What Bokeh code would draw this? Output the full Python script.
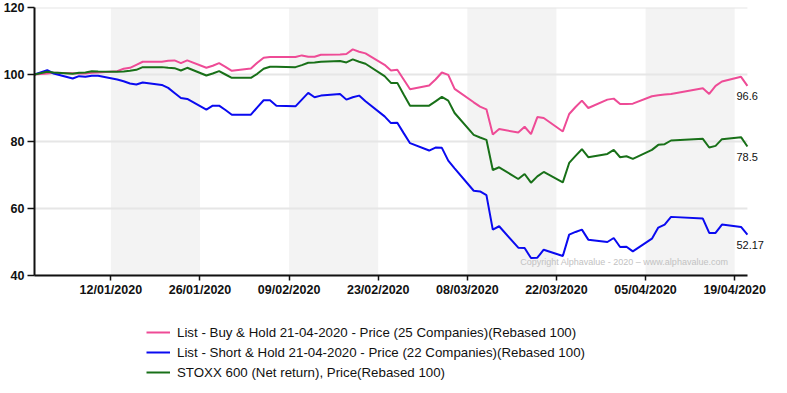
from datetime import datetime, timedelta
from bokeh.plotting import figure
from bokeh.layouts import column
from bokeh.models import (Range1d, FixedTicker, DatetimeTickFormatter, BoxAnnotation,
                          Legend, LegendItem, Label)
from bokeh.embed import file_html
from bokeh.resources import INLINE

dates = [
    "2019-12-31", "2020-01-02", "2020-01-03",
    "2020-01-06", "2020-01-07", "2020-01-08", "2020-01-09", "2020-01-10",
    "2020-01-13", "2020-01-14", "2020-01-15", "2020-01-16", "2020-01-17",
    "2020-01-20", "2020-01-21", "2020-01-22", "2020-01-23", "2020-01-24",
    "2020-01-27", "2020-01-28", "2020-01-29", "2020-01-30", "2020-01-31",
    "2020-02-03", "2020-02-04", "2020-02-05", "2020-02-06", "2020-02-07",
    "2020-02-10", "2020-02-11", "2020-02-12", "2020-02-13", "2020-02-14",
    "2020-02-17", "2020-02-18", "2020-02-19", "2020-02-20", "2020-02-21",
    "2020-02-24", "2020-02-25", "2020-02-26", "2020-02-27", "2020-02-28",
    "2020-03-02", "2020-03-03", "2020-03-04", "2020-03-05", "2020-03-06",
    "2020-03-09", "2020-03-10", "2020-03-11", "2020-03-12", "2020-03-13",
    "2020-03-16", "2020-03-17", "2020-03-18", "2020-03-19", "2020-03-20",
    "2020-03-23", "2020-03-24", "2020-03-25", "2020-03-26", "2020-03-27",
    "2020-03-30", "2020-03-31", "2020-04-01", "2020-04-02", "2020-04-03",
    "2020-04-06", "2020-04-07", "2020-04-08", "2020-04-09",
    "2020-04-14", "2020-04-15", "2020-04-16", "2020-04-17",
    "2020-04-20", "2020-04-21",
]

buy_hold = [
    100.0, 100.3, 100.5,
    100.4, 100.3, 100.3, 100.5, 100.6,
    101.0, 101.7, 102.0, 102.9, 103.8,
    103.8, 104.1, 104.2, 103.4, 104.2,
    102.0, 102.6, 103.4, 102.3, 101.1,
    101.8, 103.5, 105.0, 105.2, 105.2,
    105.2, 105.7, 105.3, 105.3, 105.9,
    106.0, 106.1, 107.5, 106.8, 106.3,
    102.9, 101.2, 101.4, 98.5, 95.6,
    96.7, 98.5, 100.6, 99.9, 95.7,
    91.7, 90.4, 89.6, 82.1, 83.7,
    82.7, 84.4, 82.2, 87.3, 87.0,
    83.0, 88.2, 90.3, 92.2, 90.0,
    92.5, 92.8, 91.2, 91.2, 91.3,
    93.5, 93.8, 94.0, 94.2,
    95.9, 94.2, 96.6, 97.9,
    99.3, 96.6,
]

short_hold = [
    100.0, 101.3, 100.3,
    98.8, 99.5, 99.3, 99.6, 99.6,
    98.5, 98.0, 97.3, 97.0, 97.6,
    96.9, 96.0, 94.5, 93.0, 92.7,
    89.5, 90.7, 90.7, 89.4, 88.0,
    88.0, 90.2, 92.3, 92.3, 90.7,
    90.5, 92.5, 94.5, 93.2, 93.7,
    94.2, 92.5, 93.2, 93.7, 92.0,
    87.5, 85.5, 85.6, 82.5, 79.5,
    77.3, 78.2, 78.1, 74.3, 72.0,
    65.3, 65.1, 64.0, 53.7, 54.7,
    48.3, 48.2, 45.2, 45.3, 47.7,
    45.8, 52.2, 53.0, 53.7, 50.7,
    50.0, 51.2, 48.5, 48.6, 47.2,
    51.0, 54.3, 55.2, 57.5,
    57.0, 52.7, 52.7, 55.2,
    54.5, 52.17,
]

stoxx = [
    100.0, 100.8, 100.6,
    100.2, 100.5, 100.6, 101.0, 100.9,
    100.8, 100.9, 101.1, 101.4, 102.2,
    102.2, 102.0, 101.9, 101.2, 102.0,
    99.7, 100.3, 101.0, 100.0, 99.0,
    99.0, 100.2, 101.7, 102.3, 102.3,
    102.2, 102.8, 103.5, 103.6, 103.8,
    104.0, 103.6, 104.5, 103.8, 103.2,
    99.5, 97.5, 97.5, 94.0, 90.7,
    90.7, 92.0, 93.3, 92.2, 88.5,
    82.0, 81.2, 80.5, 71.5, 72.3,
    68.8, 70.3, 67.7, 69.6, 70.9,
    67.8, 73.6, 75.7, 77.7, 75.3,
    76.3, 77.5, 75.3, 75.6, 74.8,
    77.5, 79.0, 79.2, 80.3,
    80.8, 78.2, 78.7, 80.7,
    81.3, 78.5,
]

series_names = [
    "List - Buy & Hold 21-04-2020 - Price (25 Companies)(Rebased 100)",
    "List - Short & Hold 21-04-2020 - Price (22 Companies)(Rebased 100)",
    "STOXX 600 (Net return), Price(Rebased 100)",
]
end_labels = ["96.6", "52.17", "78.5"]
tick_dates = ["2020-01-12", "2020-01-26", "2020-02-09", "2020-02-23",
              "2020-03-08", "2020-03-22", "2020-04-05", "2020-04-19"]
y_ticks = [40, 60, 80, 100, 120]
copyright_text = "Copyright Alphavalue - 2020 \u2013 www.alphavalue.com"

colors = ["#ee4b96", "#0a0af0", "#187018"]

EPOCH = datetime(1970, 1, 1)


def to_dt(s):
    return datetime.strptime(s, "%Y-%m-%d")


def ms(d):
    return (d - EPOCH).total_seconds() * 1000.0


x = [to_dt(d) for d in dates]
x_start, x_end = ms(x[0]), ms(x[-1])
x_pad_end = ms(x[-1] + timedelta(days=3))   # room for the end labels
FONT = "Liberation Sans"
all_series = [buy_hold, short_hold, stoxx]

p = figure(width=787, height=300, x_axis_type="datetime",
           x_range=Range1d(x_start, x_pad_end),
           y_range=Range1d(y_ticks[0], y_ticks[-1]),
           output_backend="svg", toolbar_location=None,
           min_border_left=34, min_border_right=21,
           min_border_top=7, min_border_bottom=25)
p.outline_line_color = None
p.background_fill_color = "white"

# alternating shaded bands between tick dates
for a, b in zip(tick_dates[0::2], tick_dates[1::2]):
    p.add_layout(BoxAnnotation(left=ms(to_dt(a)), right=ms(to_dt(b)),
                               fill_color="#f3f3f3", fill_alpha=1.0,
                               line_alpha=0, level="image"))

# horizontal grid lines limited to the data span
p.segment(x0=[x[0]] * len(y_ticks), x1=[x[-1]] * len(y_ticks),
          y0=y_ticks, y1=y_ticks, line_color="#e6e6e6", line_width=2,
          level="underlay")

for vals, col in zip(all_series, colors):
    p.line(x, vals, line_color=col, line_width=2)

# axes
for ax in (p.xaxis[0], p.yaxis[0]):
    ax.axis_line_color = "#111111"
    ax.axis_line_width = 2
    ax.major_tick_line_color = "#111111"
    ax.major_tick_line_width = 1.5
    ax.major_tick_in = 0
    ax.minor_tick_line_color = None
    ax.major_label_text_font = FONT
    ax.major_label_text_font_style = "bold"
    ax.major_label_text_font_size = "12.5px"
    ax.major_label_text_color = "#111111"

p.xaxis.major_tick_out = 5
p.xaxis.major_label_standoff = 2
p.yaxis.major_tick_out = 7
p.yaxis.major_label_standoff = 3
p.xaxis.bounds = (x_start, x_end)

p.xaxis.ticker = FixedTicker(ticks=[ms(to_dt(t)) for t in tick_dates])
fmt = "%d/%m/%Y"
p.xaxis.formatter = DatetimeTickFormatter(days=fmt, months=fmt, years=fmt,
                                          hours=fmt, hourmin=fmt, minutes=fmt)
p.yaxis.ticker = FixedTicker(ticks=y_ticks)

p.xgrid.visible = False
p.ygrid.visible = False

# end labels
for vals, txt in zip(all_series, end_labels):
    p.add_layout(Label(x=x_end, y=vals[-1], text=txt,
                       x_offset=-11, y_offset=-10,
                       text_align="left", text_baseline="middle",
                       text_font=FONT, text_font_size="11px",
                       text_color="#111111"))

p.add_layout(Label(x=x_end, y=y_ticks[0], text=copyright_text,
                   x_offset=-19, y_offset=14, text_align="right",
                   text_baseline="middle", text_font=FONT,
                   text_font_size="9px",
                   text_color="#c2c2c2"))

# legend panel below the chart: same series, drawn outside this panel's view
q = figure(width=787, height=93, output_backend="svg", toolbar_location=None,
           x_axis_location=None, y_axis_location=None,
           min_border=0, x_range=Range1d(x_start, x_end),
           y_range=Range1d(0, 1))
q.outline_line_color = None
q.xgrid.visible = False
q.ygrid.visible = False
legend_renderers = [q.line(x, vals, line_color=c, line_width=2)
                    for vals, c in zip(all_series, colors)]

legend = Legend(items=[LegendItem(label=n, renderers=[r])
                       for n, r in zip(series_names, legend_renderers)],
                location=(112, 11))
legend.border_line_color = None
legend.background_fill_alpha = 0
legend.padding = 0
legend.margin = 0
legend.spacing = 0
legend.glyph_width = 24
legend.glyph_height = 20
legend.label_height = 20
legend.label_standoff = 7
legend.label_text_font = FONT
legend.label_text_font_size = "13.3px"
legend.label_text_color = "#111111"
q.add_layout(legend, "center")

layout = column(p, q, spacing=0)
open("out.html", "w").write(file_html(layout, INLINE))
